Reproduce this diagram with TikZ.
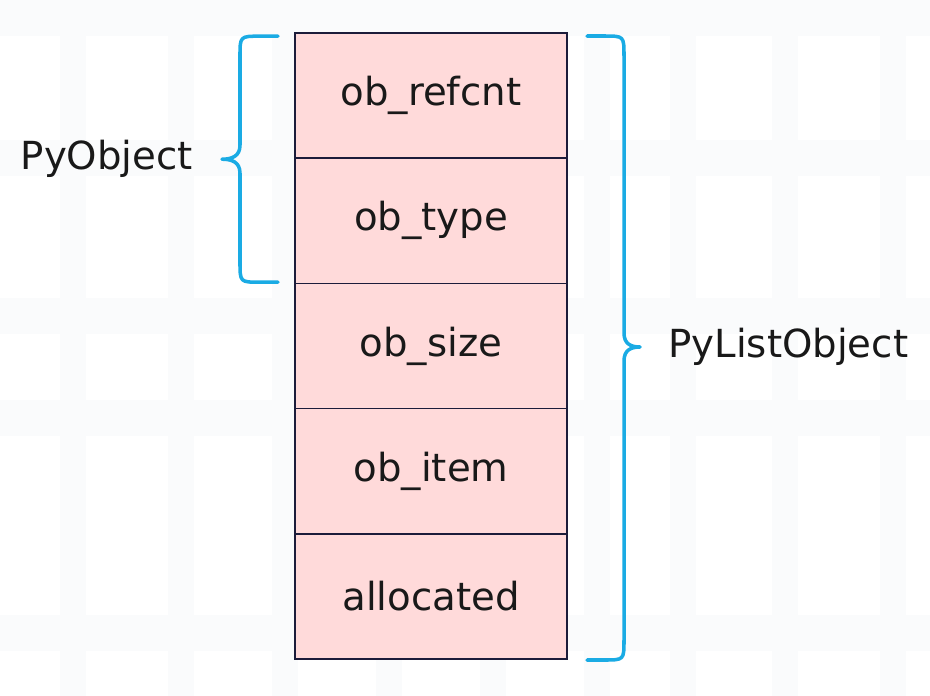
\documentclass[tikz,border=0pt]{standalone}
\usepackage{fontspec}
\setmainfont{DejaVu Sans}
\usetikzlibrary{positioning,calc}
\definecolor{cellpink}{HTML}{FFDADA}
\definecolor{cellline}{HTML}{1C1C3A}
\definecolor{bracecol}{HTML}{1AABE4}
\definecolor{gridband}{HTML}{FAFBFC}
\tikzstyle{cell}=[rectangle, draw=cellline, line width=0.7pt, fill=cellpink, outer sep=0, inner sep=0, minimum width=4.08cm, minimum height=1.878cm, font=\fontsize{16.5}{19}\selectfont, text=black!90]
\tikzstyle{label}=[inner sep=0, font=\fontsize{16.5}{19}\selectfont, text=black!90]
\tikzstyle{brace}=[bracecol, line width=1.5pt, line cap=round, line join=round]

\begin{document}
\begin{tikzpicture}[x=0.015cm,y=-0.015cm]
\useasboundingbox (0,0) rectangle (930,696);
\fill[white] (0,0) rectangle (930,696);
% faint background grid
\foreach \x in {60,168,272,376,480,584,670,772,880}
	\fill[gridband] (\x,0) rectangle (\x+26,696);
\foreach \y in {0,140,298,400,615}
	\fill[gridband] (0,\y) rectangle (930,\y+36);

% the struct, one cell per field
\node[cell, anchor=north] (refcnt) at (431,33) {ob\_refcnt};
\node[cell, below=0pt of refcnt] (type) {ob\_type};
\node[cell, below=0pt of type] (size) {ob\_size};
\node[cell, below=0pt of size] (item) {ob\_item};
\node[cell, below=0pt of item] (alloc) {allocated};

% PyObject brace
\coordinate (objtip) at ($(refcnt.south west)+(-73,1)$);
\draw[brace] ($(objtip)+(56,-123)$) -- ($(objtip)+(38,-123)$)
	.. controls ($(objtip)+(18,-123)$) .. ($(objtip)+(18,-103)$)
	-- ($(objtip)+(18,-14)$)
	.. controls ($(objtip)+(18,-3)$) and ($(objtip)+(10,0)$) .. (objtip)
	.. controls ($(objtip)+(10,0)$) and ($(objtip)+(18,3)$) .. ($(objtip)+(18,14)$)
	-- ($(objtip)+(18,103)$)
	.. controls ($(objtip)+(18,123)$) .. ($(objtip)+(38,123)$)
	-- ($(objtip)+(56,123)$);
\node[label, left=0.43cm of objtip] (pyobj) {PyObject};

% PyListObject brace
\coordinate (listtip) at ($(size.east)+(73,1)$);
\draw[brace] ($(listtip)+(-53,-311)$) -- ($(listtip)+(-36,-311)$)
	.. controls ($(listtip)+(-16,-311)$) .. ($(listtip)+(-16,-291)$)
	-- ($(listtip)+(-16,-14)$)
	.. controls ($(listtip)+(-16,-3)$) and ($(listtip)+(-9,0)$) .. (listtip)
	.. controls ($(listtip)+(-9,0)$) and ($(listtip)+(-16,3)$) .. ($(listtip)+(-16,14)$)
	-- ($(listtip)+(-16,293)$)
	.. controls ($(listtip)+(-16,313)$) .. ($(listtip)+(-36,313)$)
	-- ($(listtip)+(-53,313)$);
\node[label, right=0.42cm of listtip] (pylist) {PyListObject};
\end{tikzpicture}
\end{document}
